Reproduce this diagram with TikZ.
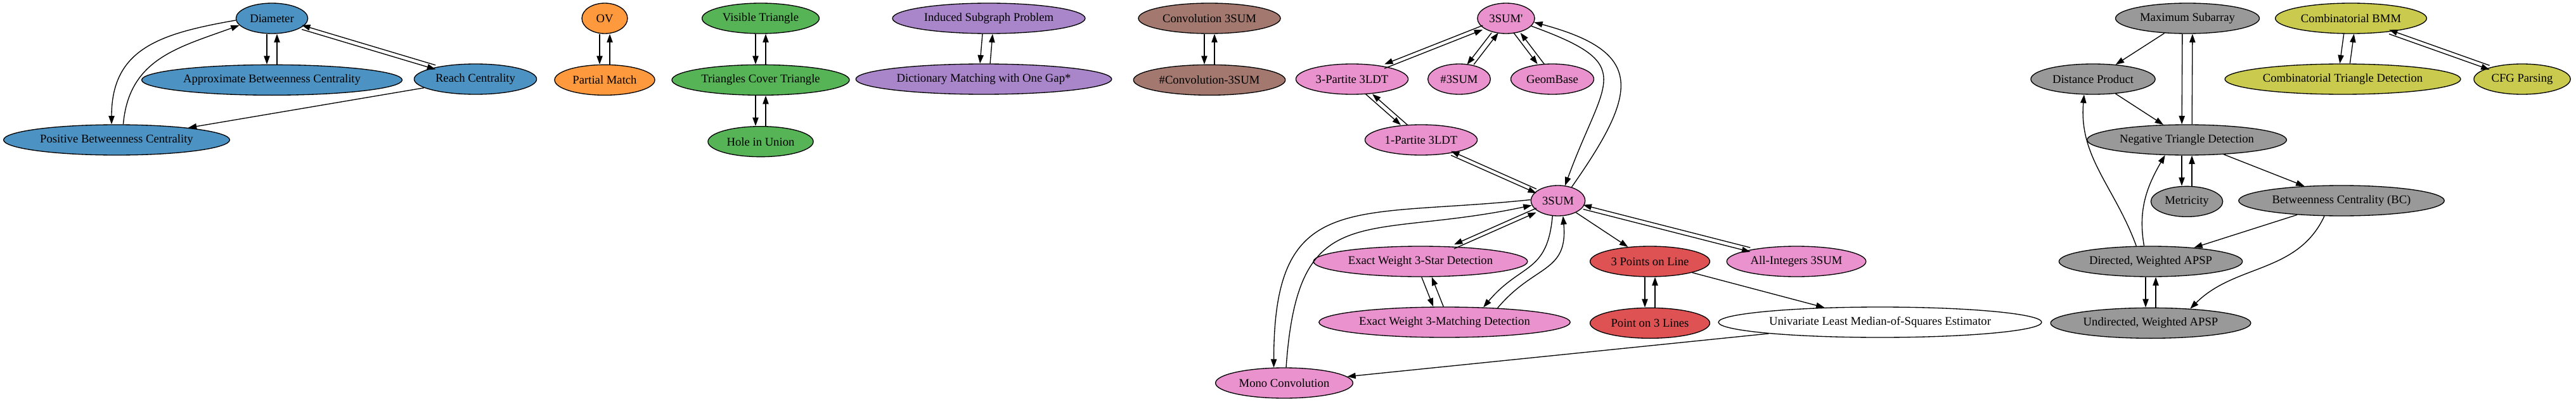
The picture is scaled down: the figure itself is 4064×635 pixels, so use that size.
\documentclass[tikz,border=0pt]{standalone}
\usepackage{fontspec}
\setmainfont{Liberation Serif}
\usepackage{tikz}
\definecolor{centrblue}{HTML}{4C92C3}
\definecolor{ovorange}{HTML}{FF993E}
\definecolor{covergreen}{HTML}{56B356}
\definecolor{strpurple}{HTML}{A985CA}
\definecolor{convbrown}{HTML}{A3786F}
\definecolor{sumpink}{HTML}{E992CE}
\definecolor{colinred}{HTML}{DE5253}
\definecolor{apspgray}{HTML}{999999}
\definecolor{combiolive}{HTML}{C9CA4E}
\tikzset{
    prob/.style={draw, ellipse, inner xsep=4pt, inner ysep=0pt, minimum width=54pt, minimum height=36pt, font=\fontsize{14}{17}\selectfont},
    centr/.style={prob, fill=centrblue},
    ovec/.style={prob, fill=ovorange},
    cover/.style={prob, fill=covergreen},
    strmatch/.style={prob, fill=strpurple},
    convol/.style={prob, fill=convbrown},
    threesum/.style={prob, fill=sumpink},
    colin/.style={prob, fill=colinred},
    apsp/.style={prob, fill=apspgray},
    combi/.style={prob, fill=combiolive},
    plainp/.style={prob, fill=white},
    reduce/.style = {-{Triangle[length=10pt, width=7pt]}},
    lift/.style = {transform canvas={yshift=#1}},
    slide/.style = {transform canvas={xshift=#1}} }
\usetikzlibrary{positioning, arrows.meta, shapes.geometric}

\begin{document}
\begin{tikzpicture}[x=0.75pt, y=0.75pt, node distance=36pt, line width=1pt]
			\useasboundingbox (0,0) rectangle (4064,-635);
			% ---- centrality
			\node[centr] at (429,-29) (diam) {Diameter};
			\node[centr, below = of diam] (abc) {Approximate Betweenness Centrality};
			\node[centr] at (750,-125) (reach) {Reach Centrality};
			\node[centr] at (184,-221) (pbc) {Positive Betweenness Centrality};
			% ---- small clusters
			\node[ovec] at (954,-29) (ov) {OV};
			\node[ovec, below = of ov] (pmatch) {Partial Match};
			\node[cover] at (1200,-29) (vtri) {Visible Triangle};
			\node[cover, below = of vtri] (tct) {Triangles Cover Triangle};
			\node[cover, below = of tct] (hole) {Hole in Union};
			\node[strmatch] at (1560,-29) (isp) {Induced Subgraph Problem};
			\node[strmatch] at (1552,-125) (dmatch) {Dictionary Matching with One Gap*};
			\node[convol] at (1908,-29) (conv) {Convolution 3SUM};
			\node[convol, below = of conv] (nconv) {\#Convolution-3SUM};
			% ---- 3sum
			\node[threesum] at (2376,-29) (sumq) {3SUM\textquotesingle};
			\node[threesum] at (2133,-125) (ptri) {3-Partite 3LDT};
			\node[threesum] at (2302,-125) (nsum) {\#3SUM};
			\node[threesum] at (2449,-125) (gbase) {GeomBase};
			\node[threesum] at (2242,-221) (pone) {1-Partite 3LDT};
			\node[threesum] at (2458,-317) (sum) {3SUM};
			\node[threesum] at (2241,-413) (star) {Exact Weight 3-Star Detection};
			\node[threesum] at (2279,-509) (match) {Exact Weight 3-Matching Detection};
			\node[threesum] at (2026,-605) (mono) {Mono Convolution};
			\node[colin] at (2603,-413) (pol) {3 Points on Line};
			\node[colin, below = of pol] (pl3) {Point on 3 Lines};
			\node[threesum] at (2834,-413) (ints) {All-Integers 3SUM};
			\node[plainp] at (2966,-509) (lms) {Univariate Least Median-of-Squares Estimator};
			% ---- apsp
			\node[apsp] at (3451,-29) (msub) {Maximum Subarray};
			\node[apsp] at (3302,-125) (dprod) {Distance Product};
			\node[apsp] at (3450,-221) (ntd) {Negative Triangle Detection};
			\node[apsp, below = of ntd] (metric) {Metricity};
			\node[apsp] at (3694,-317) (bcent) {Betweenness Centrality (BC)};
			\node[apsp] at (3393,-413) (dapsp) {Directed, Weighted APSP};
			\node[apsp, below = of dapsp] (uapsp) {Undirected, Weighted APSP};
			\node[combi] at (3709,-29) (bmm) {Combinatorial BMM};
			\node[combi] at (3696,-125) (ctd) {Combinatorial Triangle Detection};
			\node[combi] at (3979,-125) (cfg) {CFG Parsing};
			% ----
			\draw[reduce, slide=-6pt] (diam) -- (abc);
			\draw[reduce, slide=6pt] (abc) -- (diam);
			\draw[reduce, lift=-2.5pt] (diam) -- (reach);
			\draw[reduce, lift=2.5pt] (reach) -- (diam);
			\draw[reduce] (diam.183) to[out=190, in=90, looseness=1.2] (pbc.108);
			\draw[reduce] (pbc.67) to[out=85, in=200, looseness=1.1] (diam.192);
			\draw[reduce] (reach) -- (pbc);
			% ----
			\draw[reduce, slide=-6pt] (ov) -- (pmatch);
			\draw[reduce, slide=6pt] (pmatch) -- (ov);
			\draw[reduce, slide=-6pt] (vtri) -- (tct);
			\draw[reduce, slide=6pt] (tct) -- (vtri);
			\draw[reduce, slide=-6pt] (tct) -- (hole);
			\draw[reduce, slide=6pt] (hole) -- (tct);
			\draw[reduce, slide=-6pt] (isp) -- (dmatch);
			\draw[reduce, slide=6pt] (dmatch) -- (isp);
			\draw[reduce, slide=-6pt] (conv) -- (nconv);
			\draw[reduce, slide=6pt] (nconv) -- (conv);
			% ----
			\draw[reduce, lift=2.5pt] (sumq) -- (ptri);
			\draw[reduce, lift=-2.5pt] (ptri) -- (sumq);
			\draw[reduce, slide=-4pt] (sumq) -- (nsum);
			\draw[reduce, slide=4pt] (nsum) -- (sumq);
			\draw[reduce, slide=-4pt] (sumq) -- (gbase);
			\draw[reduce, slide=4pt] (gbase) -- (sumq);
			\draw[reduce] (sumq.-17) to[out=-20, in=70, looseness=1.8] (sum.65);
			\draw[reduce] (sum.45) to[out=55, in=-15, looseness=1.75] (sumq.-8);
			\draw[reduce, slide=-4pt] (ptri) -- (pone);
			\draw[reduce, slide=4pt] (pone) -- (ptri);
			\draw[reduce, lift=-2.5pt] (pone) -- (sum);
			\draw[reduce, lift=2.5pt] (sum) -- (pone);
			\draw[reduce, lift=2.5pt] (sum) -- (star);
			\draw[reduce, lift=-2.5pt] (star) -- (sum);
			\draw[reduce, slide=-6pt] (star) -- (match);
			\draw[reduce, slide=6pt] (match) -- (star);
			\draw[reduce] (sum.-110) to[out=-95, in=50, looseness=1.3] (match.21);
			\draw[reduce] (match.15) to[out=50, in=-85, looseness=1.3] (sum.-72);
			\draw[reduce] (sum.178) to[out=186, in=90, looseness=1.5] (mono.124);
			\draw[reduce] (mono.83) to[out=86, in=192, looseness=1.5] (sum.190);
			\draw[reduce] (sum) -- (pol);
			\draw[reduce, lift=-2.5pt] (sum) -- (ints);
			\draw[reduce, lift=2.5pt] (ints) -- (sum);
			\draw[reduce, slide=-6pt] (pol) -- (pl3);
			\draw[reduce, slide=6pt] (pl3) -- (pol);
			\draw[reduce] (pol) -- (lms);
			\draw[reduce] (lms) -- (mono);
			% ----
			\draw[reduce] (msub) -- (dprod);
			\draw[reduce, slide=-6pt] (msub) -- (ntd);
			\draw[reduce, slide=6pt] (ntd) -- (msub);
			\draw[reduce] (dprod) -- (ntd);
			\draw[reduce, slide=-6pt] (ntd) -- (metric);
			\draw[reduce, slide=6pt] (metric) -- (ntd);
			\draw[reduce] (ntd) -- (bcent);
			\draw[reduce] (bcent) -- (dapsp);
			\draw[reduce] (bcent.-138) to[out=-115, in=45] (uapsp.20);
			\draw[reduce, slide=-6pt] (dapsp) -- (uapsp);
			\draw[reduce, slide=6pt] (uapsp) -- (dapsp);
			\draw[reduce] (dapsp.133) to[out=110, in=-95] (dprod.-120);
			\draw[reduce] (dapsp.113) to[out=100, in=-120] (ntd.-145);
			% ----
			\draw[reduce, slide=-6pt] (bmm) -- (ctd);
			\draw[reduce, slide=6pt] (ctd) -- (bmm);
			\draw[reduce, lift=-2.5pt] (bmm) -- (cfg);
			\draw[reduce, lift=2.5pt] (cfg) -- (bmm);
		\end{tikzpicture}
\end{document}
